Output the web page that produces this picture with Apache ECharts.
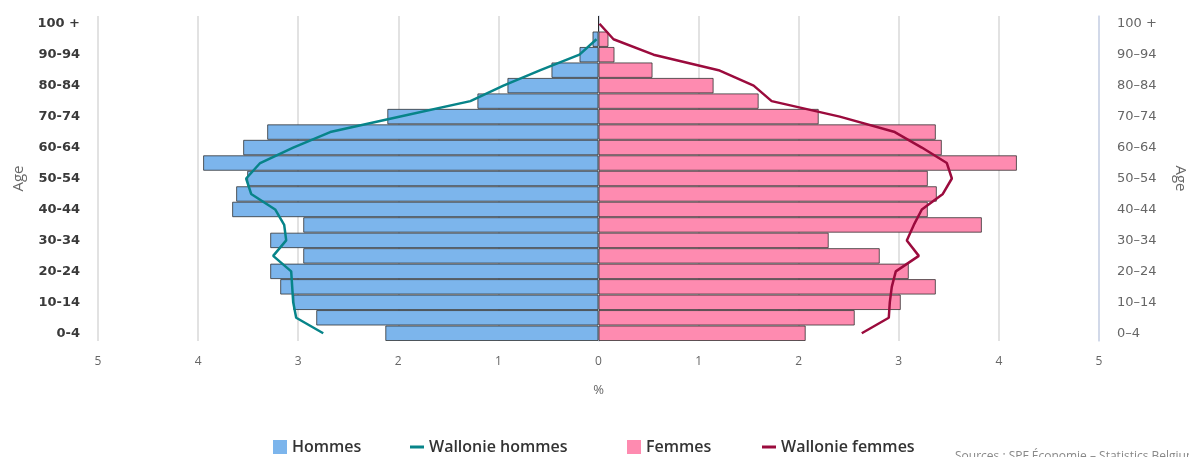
<!DOCTYPE html>
<html>
<head>
<meta charset="utf-8">
<script src="https://cdn.jsdelivr.net/npm/echarts@6/dist/echarts.min.js"></script>
<style>
  html, body { margin: 0; padding: 0; background: #fff; }
  #chart { width: 1189px; height: 457px; }
</style>
</head>
<body>
<div id="chart"></div>
<script>
// age groups, bottom to top
var ages = ['0-4', '5-9', '10-14', '15-19', '20-24', '25-29', '30-34', '35-39', '40-44', '45-49',
  '50-54', '55-59', '60-64', '65-69', '70-74', '75-79', '80-84', '85-89', '90-94', '95-99', '100 +']
var agesRight = ['0–4', '5–9', '10–14', '15–19', '20–24', '25–29', '30–34', '35–39', '40–44', '45–49',
  '50–54', '55–59', '60–64', '65–69', '70–74', '75–79', '80–84', '85–89', '90–94', '95–99', '100 +']

// % of population
var hommes = [2.13, 2.82, 3.05, 3.18, 3.28, 2.95, 3.28, 2.95, 3.66, 3.62, 3.51, 3.95, 3.55, 3.31, 2.11, 1.21, 0.91, 0.47, 0.19, 0.06, 0]
var femmes = [2.07, 2.56, 3.02, 3.37, 3.10, 2.81, 2.30, 3.83, 3.29, 3.38, 3.29, 4.18, 3.43, 3.37, 2.20, 1.60, 1.15, 0.54, 0.16, 0.10, 0]
var walHommes = [2.75, 3.02, 3.05, 3.06, 3.07, 3.25, 3.12, 3.14, 3.23, 3.47, 3.52, 3.38, 3.05, 2.68, 1.98, 1.28, 0.95, 0.58, 0.19, 0.02, null]
var walFemmes = [2.63, 2.90, 2.91, 2.93, 2.97, 3.20, 3.08, 3.15, 3.23, 3.44, 3.53, 3.48, 3.23, 2.96, 2.41, 1.73, 1.55, 1.20, 0.55, 0.15, 0.01]

var xTicks = [-5, 5, 1]

var neg = function (arr) {
  return arr.map(function (v) { return v === null ? null : -v })
}

var chart = echarts.init(document.getElementById('chart'), null, {renderer: 'canvas'})

var lineIcon = 'path://M0,0 L14,0 L14,3 L0,3 Z'
var legendText = {
  fontFamily: 'Open Sans',
  fontWeight: 600,
  fontSize: 16,
  color: '#333'
}
var mkLegend = function (name, left, icon) {
  return {
    data: [{name: name, icon: icon}],
    left: left,
    top: 434,
    itemWidth: 14,
    itemHeight: 14,
    itemGap: 0,
    itemStyle: {borderWidth: 0},
    textStyle: legendText
  }
}

var option = {
  animation: false,
  legend: [
    mkLegend('Hommes', 268, 'rect'),
    mkLegend('Wallonie hommes', 405, lineIcon),
    mkLegend('Femmes', 622, 'rect'),
    mkLegend('Wallonie femmes', 757, lineIcon)
  ],
  grid: {
    left: 98,
    right: 90,
    top: 16,
    bottom: 116,
    outerBoundsMode: 'none'
  },
  xAxis: {
    type: 'value',
    min: xTicks[0],
    max: xTicks[1],
    interval: xTicks[2],
    name: '%',
    nameLocation: 'middle',
    nameGap: 43,
    nameTextStyle: {color: '#666', fontSize: 13, fontFamily: 'Open Sans'},
    axisLine: {show: false},
    axisTick: {show: false},
    axisLabel: {
      color: '#666',
      fontSize: 12,
      fontFamily: 'Open Sans',
      margin: 15,
      formatter: function (v) { return Math.abs(v) }
    },
    splitLine: {
      lineStyle: {color: '#d8d8d8', width: 1.5}
    }
  },
  yAxis: [{
    type: 'category',
    data: ages,
    position: 'left',
    name: 'Age',
    nameLocation: 'middle',
    nameGap: 72,
    nameTextStyle: {color: '#666', fontSize: 15, fontFamily: 'Open Sans'},
    axisLine: {lineStyle: {color: '#ccd6eb', width: 1.5}},
    axisTick: {interval: 0, length: 12, lineStyle: {color: '#ccd6eb', width: 1.5}},
    axisLabel: {
      interval: 1,
      margin: 18,
      color: '#3a3a3a',
      fontWeight: 'bold',
      fontSize: 13,
      fontFamily: 'DejaVu Sans'
    }
  }, {
    type: 'category',
    data: agesRight,
    position: 'right',
    name: 'Age',
    nameLocation: 'middle',
    nameGap: 74,
    nameRotate: -90,
    nameTextStyle: {color: '#666', fontSize: 15, fontFamily: 'Open Sans'},
    axisLine: {lineStyle: {color: '#ccd6eb', width: 1.5}},
    axisTick: {interval: 0, length: 12, lineStyle: {color: '#ccd6eb', width: 1.5}},
    axisLabel: {
      interval: 1,
      margin: 18,
      color: '#666',
      fontSize: 13,
      fontFamily: 'DejaVu Sans'
    }
  }],
  series: [{
    name: 'Hommes',
    type: 'bar',
    stack: 'pop',
    yAxisIndex: 0,
    barCategoryGap: '0%',
    data: neg(hommes),
    itemStyle: {color: '#7cb5ec', borderColor: 'rgba(40,40,40,0.75)', borderWidth: 1}
  }, {
    name: 'Wallonie hommes',
    type: 'line',
    yAxisIndex: 0,
    symbol: 'none',
    data: neg(walHommes),
    lineStyle: {color: '#078489', width: 2.5},
    itemStyle: {color: '#078489'},
    z: 5
  }, {
    name: 'Femmes',
    type: 'bar',
    stack: 'pop',
    yAxisIndex: 0,
    barCategoryGap: '0%',
    data: femmes,
    itemStyle: {color: '#fe8bb0', borderColor: 'rgba(40,40,40,0.75)', borderWidth: 1}
  }, {
    name: 'Wallonie femmes',
    type: 'line',
    yAxisIndex: 0,
    symbol: 'none',
    data: walFemmes,
    lineStyle: {color: '#9b0b3d', width: 2.5},
    itemStyle: {color: '#9b0b3d'},
    z: 5
  }],
  graphic: [{
    type: 'text',
    left: 955,
    top: 451,
    style: {
      text: 'Sources : SPF Économie – Statistics Belgium',
      fill: '#888',
      font: '12px "Open Sans"'
    }
  }]
}

chart.setOption(option)
</script>
</body>
</html>
